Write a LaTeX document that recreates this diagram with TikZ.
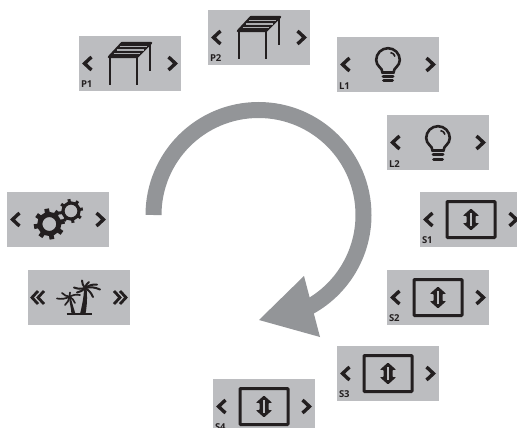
\documentclass[tikz,border=0pt]{standalone}
\usepackage{fontspec}
\setmainfont{Open Sans}
\usepackage{tikz}
\usetikzlibrary{positioning}
\definecolor{panelgray}{HTML}{BCBDC0}
\definecolor{arrowgray}{HTML}{939598}
\definecolor{ink}{HTML}{231F20}
\tikzset{
	panel/.style={fill=panelgray, minimum width=102pt, minimum height=55pt, inner sep=0pt},
	tag/.style={anchor=south west, inner sep=0pt, xshift=2pt, yshift=3pt, text=ink, font=\bfseries\fontsize{9.5}{10}\selectfont},
	chev/.style={draw=ink, line width=3.4pt, line cap=butt, line join=miter},
	pics/chevrons/.style={code={
		\draw[chev] (-38.5,6.5) -- (-45.5,0) -- (-38.5,-6.5);
		\draw[chev] (38.5,6.5) -- (45.5,0) -- (38.5,-6.5);
	}},
	pics/doublechevrons/.style={code={
		\draw[chev, line width=2.8pt] (-41,6.5) -- (-47,0) -- (-41,-6.5);
		\draw[chev, line width=2.8pt] (-35,6.5) -- (-41,0) -- (-35,-6.5);
		\draw[chev, line width=2.8pt] (35,6.5) -- (41,0) -- (35,-6.5);
		\draw[chev, line width=2.8pt] (41,6.5) -- (47,0) -- (41,-6.5);
	}},
	pics/pergola/.style={code={
		\draw[ink, line width=2.4pt, fill=ink, line join=round] (-21,6.5) -- (7,6.5) -- (21,20.5) -- (-8,20.5) -- cycle;
		\draw[panelgray!60!arrowgray, line width=1.4pt] (-16.5,10) -- (10,10);
		\draw[panelgray!60!arrowgray, line width=1.4pt] (-13.5,13.5) -- (13.5,13.5);
		\draw[panelgray!60!arrowgray, line width=1.4pt] (-10.5,17) -- (17,17);
		\draw[ink, line width=2.8pt] (-20,6.5) -- (-20,-21.5);
		\draw[ink, line width=2.8pt] (7,6.5) -- (7,-21.5);
		\draw[ink, line width=2.8pt] (20,20.5) -- (20,-7.5);
	}},
	pics/bulb/.style={code={
		\draw[ink, line width=2.6pt] (-5.5,-8) .. controls (-5.5,-3) and (-11.8,-2) .. (-11.8,4.5) arc (180:0:11.8) .. controls (11.8,-2) and (5.5,-3) .. (5.5,-8) -- cycle;
		\draw[ink, line width=1.6pt] (2.5,12) .. controls (5,11.5) and (6.5,10) .. (7,8);
		\draw[ink, line width=3pt, line cap=round] (-5,-12) -- (5,-12);
		\draw[ink, line width=3pt, line cap=round] (-4.5,-16.5) -- (4.5,-16.5);
	}},
	pics/shutter/.style={code={
		\draw[ink, line width=3pt, rounded corners=0.8pt] (-24,-18) rectangle (24,18);
		\fill[ink, rounded corners=0.8pt] (0,11) -- (8.2,3.6) -- (4.5,3.6) -- (4.5,-3.6) -- (8.2,-3.6) -- (0,-11) -- (-8.2,-3.6) -- (-4.5,-3.6) -- (-4.5,3.6) -- (-8.2,3.6) -- cycle;
		\draw[panelgray, line width=1.3pt] (0,6.5) -- (0,-6.5);
	}},
	pics/gearwheel/.style args={#1/#2/#3}{code={
		\draw[ink, line width=#2pt] (0,0) circle (#1);
		\foreach \a in {0,45,...,315}
			\draw[ink, line width=#2pt*0.95] (\a+10:#1) -- (\a+10:#3);
	}},
	pics/palm/.style={code={
		\draw[ink, line width=1.2pt] (-12.5,-16.5) -- (12.5,-16.5);
		% big tree
		\fill[ink] (1,-16.5) .. controls (3.5,-6) and (5,2) .. (5,9.5) -- (7.5,9.5) .. controls (8.5,0) and (8,-8) .. (6.5,-16.5) -- cycle;
		\foreach \x/\y in {-5/10,21/8,10/15.5,18/13,3/17,14/0.5,-2/5}
			\draw[ink, line width=2pt, line cap=round] (6,9.5) to[bend left=18] (\x,\y);
		% small tree
		\fill[ink] (-7.5,-16.5) .. controls (-8,-10) and (-9.5,-5) .. (-10,0.5) -- (-8.5,0.5) .. controls (-7,-5) and (-5.5,-10) .. (-3.5,-16.5) -- cycle;
		\foreach \x/\y in {-22/-1,-17/4.5,1/2.5,-14/-7.5,-4/-5.5,-9/5}
			\draw[ink, line width=1.7pt, line cap=round] (-9.5,0.8) to[bend left=18] (\x,\y);
	}}
}
\begin{document}
\begin{tikzpicture}[x=1pt, y=1pt]
	\clip (0,0) rectangle (517,-428);
	% panels
	\node[panel] (P1) at (130,-63.5) {};
	\node[panel] (P2) at (259,-37.5) {};
	\node[panel] (L1) at (388,-64.5) {};
	\node[panel] (L2) at (438,-142.5) {};
	\node[panel] (S1) at (471,-219.5) {};
	\node[panel] (S2) at (438,-297.5) {};
	\node[panel] (S3) at (388,-373.5) {};
	\node[panel] (S4) at (264,-406.5) {};
	\node[panel] (Gears) at (58,-219.5) {};
	\node[panel] (Holiday) at (79,-297.5) {};
	% tags
	\node[tag] (P1tag) at (P1.south west) {P1};
	\node[tag] (P2tag) at (P2.south west) {P2};
	\node[tag] (L1tag) at (L1.south west) {L1};
	\node[tag] (L2tag) at (L2.south west) {L2};
	\node[tag] (S1tag) at (S1.south west) {S1};
	\node[tag] (S2tag) at (S2.south west) {S2};
	\node[tag] (S3tag) at (S3.south west) {S3};
	\node[tag] (S4tag) at (S4.south west) {S4};
	% icons
	\pic at (P1) {chevrons};
	\pic at (P1) {pergola};
	\pic at (P2) {chevrons};
	\pic at (P2) {pergola};
	\pic at (L1) {chevrons};
	\pic at (L1) {bulb};
	\pic at (L2) {chevrons};
	\pic at (L2) {bulb};
	\pic at (S1) {chevrons};
	\pic at (S1) {shutter};
	\pic at (S2) {chevrons};
	\pic at (S2) {shutter};
	\pic at (S3) {chevrons};
	\pic at (S3) {shutter};
	\pic at (S4) {chevrons};
	\pic at (S4) {shutter};
	\pic at (Gears) {chevrons};
	\pic at ([shift={(-8.7,-4.5)}]Gears.center) {gearwheel={9.5/5/15.5}};
	\pic at ([shift={(13,8.5)}]Gears.center) {gearwheel={8/3.2/12}};
	\pic at (Holiday) {doublechevrons};
	\pic at (Holiday) {palm};
	% big arrow
	\draw[arrowgray, line width=16pt] (153.5,-215) arc (180:-63:105);
	\fill[arrowgray] (259,-320) -- (304,-276) -- (320,-337) -- cycle;
\end{tikzpicture}
\end{document}
